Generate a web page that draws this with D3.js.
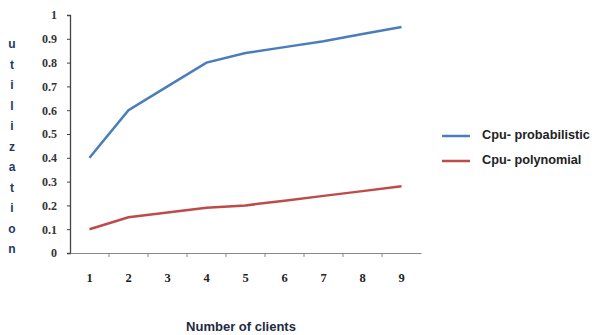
<!DOCTYPE html>
<html><head><meta charset="utf-8">
<script src="https://cdn.jsdelivr.net/npm/d3@7"></script>
<style>body{margin:0;background:#fff}</style>
</head><body>
<svg id="c" width="592" height="335"></svg>
<script>
const categories = ["1","2","3","4","5","6","7","8","9"];
const probabilistic = [0.40,0.60,0.70,0.80,0.84,0.865,0.89,0.92,0.95];
const polynomial = [0.10,0.15,0.17,0.19,0.20,0.22,0.24,0.26,0.28];
const yTicks = [0,0.1,0.2,0.3,0.4,0.5,0.6,0.7,0.8,0.9,1];
const seriesNames = ["Cpu- probabilistic","Cpu- polynomial"];
const colors = ["#4a7ebb","#be4b48"];
const yTitle = "utilization";
const xTitle = "Number of clients";

const svg = d3.select("#c");
const x = d3.scaleBand().domain(categories).range([70,421]);
const y = d3.scaleLinear().domain([0,1]).range([253,15]);

// y axis
const ya = svg.append("g").attr("transform","translate(70,0)")
  .call(d3.axisLeft(y).tickValues(yTicks).tickFormat(d=>d===0||d===1?String(d):d.toFixed(1)).tickSize(3).tickPadding(10));
ya.select(".domain").attr("stroke","#444").attr("stroke-width",1.3);
ya.selectAll(".tick line").attr("stroke","#444");
ya.selectAll("text").attr("font-family","Liberation Serif").attr("font-size","12px").attr("font-weight","bold").attr("fill","#333");

// x axis
const xa = svg.append("g").attr("transform","translate(0,253)")
  .call(d3.axisBottom(x).tickSizeOuter(0).tickSize(0).tickPadding(20));
xa.select(".domain").attr("stroke","#888").attr("stroke-width",1.2);
xa.selectAll("text").attr("font-family","Liberation Serif").attr("font-size","12.5px").attr("font-weight","bold").attr("fill","#222");
// between-category tick marks
xa.selectAll(".sep").data(categories.slice(1)).enter().append("line")
  .attr("x1",d=>x(d)).attr("x2",d=>x(d)).attr("y1",0).attr("y2",4).attr("stroke","#888");

const line = d3.line().x((d,i)=>x(categories[i])+x.bandwidth()/2).y(d=>y(d));
[probabilistic, polynomial].forEach((s,k)=>{
  svg.append("path").datum(s).attr("d",line).attr("fill","none")
    .attr("stroke",colors[k]).attr("stroke-width",2.5);
});

// y title stacked letters
svg.append("g").selectAll("text").data(yTitle.split("")).enter().append("text")
  .attr("x",12).attr("y",(d,i)=>48+i*20.5).attr("text-anchor","middle")
  .attr("font-family","Liberation Sans").attr("font-size","12px").attr("font-weight","bold")
  .attr("fill","#1f3864").text(d=>d);

// x title
svg.append("text").attr("x",241).attr("y",331).attr("text-anchor","middle")
  .attr("font-family","Liberation Sans").attr("font-size","13px").attr("font-weight","bold")
  .attr("fill","#1f2a44").text(xTitle);

// legend
const lg = svg.append("g");
seriesNames.forEach((n,k)=>{
  const yy = 136 + k*25;
  lg.append("line").attr("x1",442).attr("x2",470).attr("y1",yy).attr("y2",yy)
    .attr("stroke",colors[k]).attr("stroke-width",2.5);
  lg.append("text").attr("x",482).attr("y",yy+3).attr("font-family","Liberation Sans")
    .attr("font-size","12.7px").attr("font-weight","bold").attr("fill","#222").text(n);
});
</script>
</body></html>
